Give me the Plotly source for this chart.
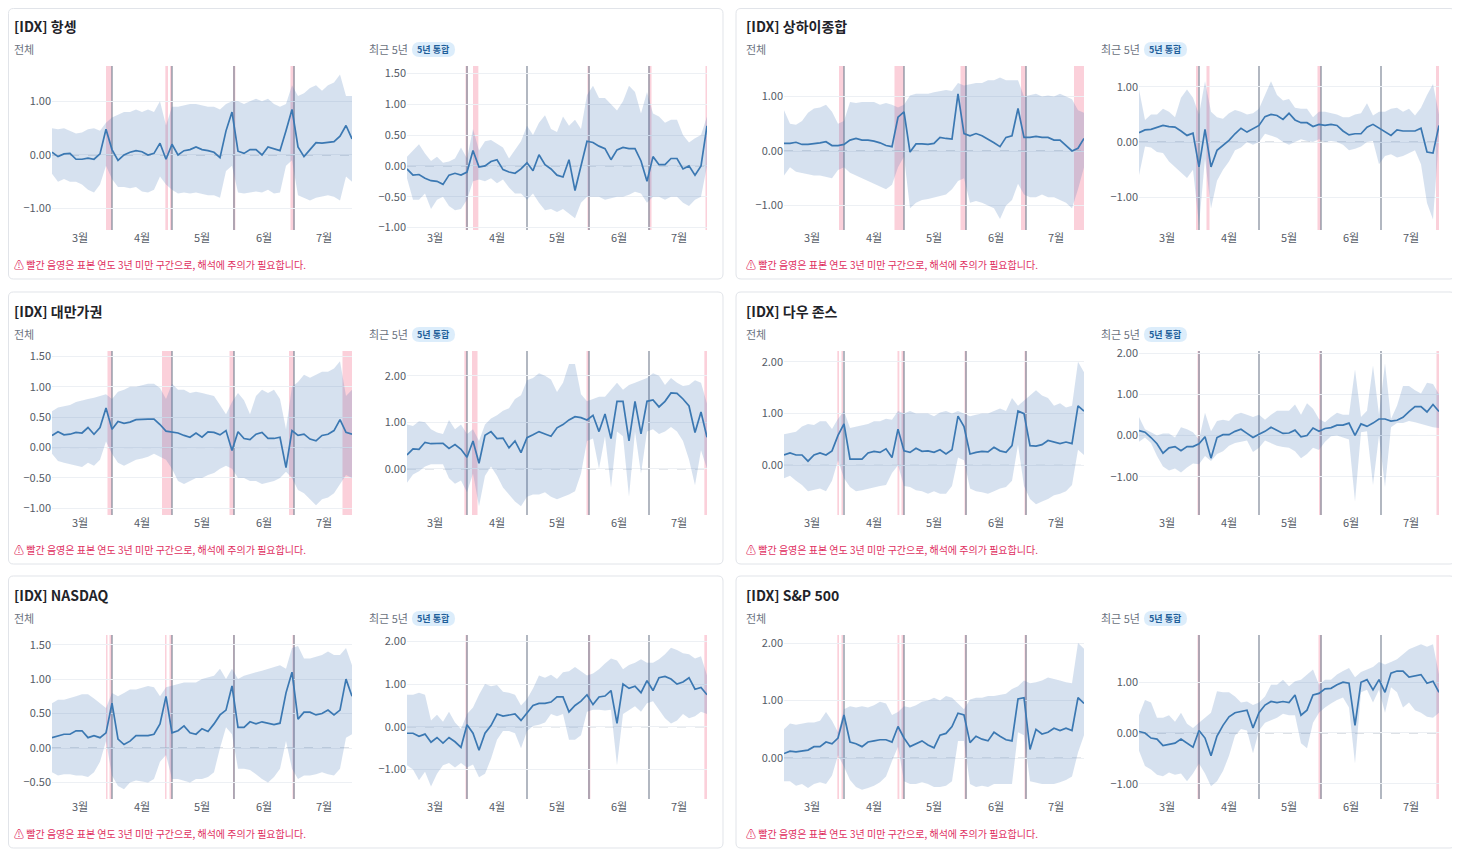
import pandas as pd
import plotly.graph_objects as go

W, H = 1460, 851          # reference picture size
OFF = 8                   # page margin around the figure
FW, FH = W - OFF, H - OFF # figure size
FONT = "Noto Sans CJK KR, Noto Sans, DejaVu Sans, sans-serif"

# shared x grid (every 3 days) and month ticks
dates = pd.date_range("2024-03-02", "2024-07-30", freq="3D")
month_ticks = ["2024-03-16", "2024-04-16", "2024-05-16", "2024-06-16", "2024-07-16"]
month_labels = ["3월", "4월", "5월", "6월", "7월"]
month_starts = ["2024-04-01", "2024-05-01", "2024-06-01", "2024-07-01"]

# ---- 항셍 ----
hangseng_all = [0.05, -0.03, 0.02, 0.03, -0.08, -0.08, -0.06, -0.08, 0.02, 0.48,
                0.1, -0.1, 0.0, 0.05, 0.08, 0.06, 0.0, 0.03, 0.22, -0.08,
                0.2, 0.0, 0.08, 0.1, 0.15, 0.1, 0.08, 0.05, -0.05, 0.45,
                0.8, 0.07, 0.03, 0.1, 0.1, 0.0, 0.15, 0.12, 0.08, 0.45,
                0.85, 0.15, -0.03, 0.1, 0.23, 0.22, 0.24, 0.25, 0.35, 0.55, 0.3]
hangseng_all_hi = [0.5, 0.48, 0.5, 0.45, 0.4, 0.42, 0.48, 0.5, 0.45, 0.6,
                   0.7, 0.75, 0.8, 0.8, 0.85, 0.8, 0.85, 0.8, 1.0, 0.55,
                   0.9, 0.9, 0.92, 0.95, 0.95, 0.92, 0.9, 0.9, 0.85, 0.95,
                   1.0, 1.0, 0.95, 1.0, 1.05, 1.0, 1.05, 0.95, 0.9, 0.95,
                   1.3, 1.1, 1.15, 1.25, 1.3, 1.2, 1.3, 1.35, 1.5, 1.1, 1.1]
hangseng_all_lo = [-0.35, -0.5, -0.45, -0.5, -0.5, -0.55, -0.65, -0.7, -0.55, -0.2,
                   -0.45, -0.6, -0.6, -0.62, -0.6, -0.68, -0.7, -0.65, -0.4, -0.55,
                   -0.65, -0.72, -0.7, -0.72, -0.7, -0.72, -0.75, -0.75, -0.8, -0.3,
                   -0.2, -0.7, -0.72, -0.7, -0.68, -0.7, -0.65, -0.72, -0.7, -0.2,
                   -0.1, -0.75, -0.8, -0.85, -0.8, -0.78, -0.75, -0.78, -0.85, -0.4, -0.5]
hangseng_5y = [-0.05, -0.15, -0.14, -0.2, -0.24, -0.25, -0.3, -0.15, -0.12, -0.15,
               -0.1, 0.25, -0.02, 0.0, 0.07, 0.1, -0.06, -0.1, -0.12, -0.05,
               0.05, -0.08, 0.18, 0.02, -0.05, -0.15, -0.18, 0.1, -0.4, 0.0,
               0.4, 0.38, 0.32, 0.28, 0.1, 0.26, 0.3, 0.28, 0.28, 0.08,
               -0.25, 0.15, 0.02, 0.02, 0.12, 0.12, -0.05, 0.0, -0.15, 0.0, 0.65]
hangseng_5y_hi = [0.15, 0.25, 0.35, 0.2, 0.08, 0.15, 0.05, 0.07, 0.12, 0.3,
                  0.12, 0.6, 0.25, 0.4, 0.42, 0.36, 0.3, 0.12, 0.25, 0.4,
                  0.65, 0.5, 0.7, 0.82, 0.6, 0.55, 0.8, 0.65, 0.75, 0.6,
                  1.15, 1.3, 1.1, 1.1, 1.0, 0.9, 1.05, 1.3, 1.2, 0.85,
                  1.2, 0.85, 0.8, 0.7, 0.75, 0.75, 0.5, 0.38, 0.45, 0.5, 0.8]
hangseng_5y_lo = [-0.2, -0.55, -0.55, -0.45, -0.7, -0.55, -0.5, -0.65, -0.72, -0.7,
                  -0.55, -0.25, -0.22, -0.25, -0.2, -0.28, -0.22, -0.35, -0.45, -0.45,
                  -0.55, -0.45, -0.6, -0.72, -0.7, -0.75, -0.7, -0.78, -0.85, -0.6,
                  -0.5, -0.5, -0.5, -0.55, -0.52, -0.5, -0.5, -0.47, -0.42, -0.45,
                  -0.6, -0.5, -0.5, -0.55, -0.5, -0.5, -0.6, -0.65, -0.55, -0.5, 0.0]

# ---- 상하이종합 ----
shanghai_all = [0.14, 0.14, 0.16, 0.12, 0.12, 0.13, 0.15, 0.17, 0.1, 0.1,
                0.12, 0.2, 0.23, 0.2, 0.2, 0.18, 0.15, 0.1, 0.08, 0.62,
                0.72, -0.02, 0.13, 0.13, 0.12, 0.14, 0.25, 0.23, 0.22, 1.05,
                0.32, 0.28, 0.32, 0.28, 0.22, 0.15, 0.08, 0.25, 0.28, 0.78,
                0.25, 0.25, 0.27, 0.25, 0.25, 0.2, 0.2, 0.1, 0.0, 0.05, 0.23]
shanghai_all_hi = [0.75, 0.5, 0.48, 0.55, 0.7, 0.78, 0.8, 0.85, 0.72, 0.5,
                   0.55, 0.9, 0.88, 0.9, 0.9, 0.9, 0.85, 0.88, 0.85, 0.8,
                   0.85, 1.02, 1.05, 1.05, 1.05, 1.08, 1.1, 1.12, 1.1, 1.25,
                   1.2, 1.22, 1.25, 1.25, 1.3, 1.3, 1.35, 1.3, 1.3, 1.3,
                   1.0, 1.02, 1.05, 1.0, 1.02, 1.0, 1.05, 1.0, 0.95, 0.75, 0.7]
shanghai_all_lo = [-0.45, -0.3, -0.38, -0.4, -0.42, -0.45, -0.45, -0.48, -0.5, -0.35,
                   -0.3, -0.4, -0.45, -0.5, -0.55, -0.6, -0.65, -0.7, -0.62, -0.3,
                   -0.1, -1.05, -0.95, -0.9, -0.88, -0.85, -0.82, -0.8, -0.7, -0.55,
                   -0.5, -0.95, -0.92, -0.95, -1.0, -1.05, -1.25, -1.0, -0.9, -0.6,
                   -0.8, -0.85, -0.85, -0.8, -0.85, -0.85, -0.9, -0.95, -1.05, -0.7, -0.3]
shanghai_5y = [0.17, 0.22, 0.23, 0.26, 0.3, 0.28, 0.27, 0.2, 0.12, 0.16,
               -0.45, 0.23, -0.45, -0.15, -0.06, 0.03, 0.15, 0.25, 0.18, 0.24,
               0.3, 0.46, 0.5, 0.48, 0.41, 0.52, 0.4, 0.35, 0.35, 0.28,
               0.32, 0.3, 0.32, 0.3, 0.2, 0.13, 0.15, 0.15, 0.27, 0.32,
               0.25, 0.18, 0.12, 0.22, 0.2, 0.2, 0.2, 0.25, -0.18, -0.2, 0.3]
shanghai_5y_hi = [0.95, 0.4, 0.5, 0.5, 0.6, 0.55, 0.45, 0.8, 0.95, 0.8,
                  0.5, 1.1, 0.55, 0.45, 0.42, 0.52, 0.58, 0.55, 0.5, 0.52,
                  0.6, 0.85, 1.1, 0.85, 0.75, 0.78, 0.62, 0.6, 0.6, 0.45,
                  0.55, 0.55, 0.52, 0.5, 0.45, 0.45, 0.5, 0.52, 0.7, 0.48,
                  0.55, 0.55, 0.6, 0.62, 0.55, 0.6, 0.48, 0.62, 0.85, 1.05, 0.5]
shanghai_5y_lo = [-0.6, -0.08, -0.1, -0.18, -0.2, -0.35, -0.45, -0.55, -0.65, -0.5,
                  -1.5, -0.3, -1.2, -0.7, -0.5, -0.35, -0.15, -0.1, 0.0, -0.05,
                  0.0, 0.15, 0.12, 0.08, 0.0, -0.05, 0.0, 0.05, 0.02, 0.0,
                  0.05, 0.0, 0.02, 0.0, -0.05, -0.15, -0.12, -0.08, 0.0, 0.02,
                  -0.4, -0.25, -0.22, -0.28, -0.25, -0.2, -0.15, -0.4, -1.1, -1.4, 0.1]

# ---- 대만가권 ----
taiwan_all = [0.2, 0.26, 0.21, 0.22, 0.25, 0.24, 0.33, 0.22, 0.33, 0.65,
              0.3, 0.43, 0.4, 0.42, 0.46, 0.47, 0.47, 0.47, 0.38, 0.27,
              0.25, 0.24, 0.2, 0.17, 0.24, 0.17, 0.26, 0.25, 0.21, 0.28,
              -0.05, 0.26, 0.15, 0.13, 0.22, 0.25, 0.15, 0.15, 0.17, -0.33,
              0.28, 0.2, 0.22, 0.14, 0.11, 0.2, 0.22, 0.28, 0.46, 0.25, 0.22]
taiwan_all_hi = [0.6, 0.66, 0.68, 0.7, 0.75, 0.78, 0.8, 0.82, 0.85, 0.88,
                 0.8, 0.92, 0.95, 1.0, 1.0, 1.02, 1.05, 1.05, 0.98, 0.8,
                 1.05, 0.95, 0.95, 0.9, 0.92, 0.9, 0.88, 0.85, 0.7, 0.55,
                 0.75, 0.9, 0.78, 0.55, 0.85, 0.95, 0.9, 0.95, 0.8, 0.3,
                 1.0, 1.08, 1.2, 1.15, 1.2, 1.25, 1.25, 1.3, 1.42, 0.85, 0.95]
taiwan_all_lo = [-0.1, -0.22, -0.25, -0.27, -0.3, -0.32, -0.25, -0.3, -0.2, 0.1,
                 -0.1, -0.25, -0.3, -0.25, -0.2, -0.18, -0.15, -0.1, -0.15, -0.2,
                 -0.35, -0.55, -0.6, -0.55, -0.5, -0.5, -0.45, -0.42, -0.35, -0.3,
                 -0.35, -0.5, -0.5, -0.55, -0.55, -0.6, -0.58, -0.55, -0.5, -0.4,
                 -0.5, -0.7, -0.75, -0.85, -0.95, -0.85, -0.82, -0.75, -0.6, -0.45, -0.5]
taiwan_5y = [0.3, 0.43, 0.42, 0.57, 0.54, 0.55, 0.55, 0.44, 0.52, 0.42,
             0.25, 0.6, 0.12, 0.72, 0.8, 0.65, 0.66, 0.45, 0.6, 0.35,
             0.67, 0.73, 0.8, 0.75, 0.7, 0.88, 0.95, 1.05, 1.12, 1.1,
             1.05, 1.15, 0.8, 1.18, 0.65, 1.45, 1.45, 0.6, 1.45, 0.75,
             1.45, 1.48, 1.33, 1.45, 1.63, 1.62, 1.5, 1.35, 0.78, 1.22, 0.68]
taiwan_5y_hi = [0.95, 0.92, 1.02, 1.0, 0.85, 0.78, 0.75, 1.05, 0.85, 0.95,
                0.75, 0.85, 0.6, 0.95, 1.08, 1.15, 1.25, 1.3, 1.5, 1.58,
                1.9, 1.95, 2.05, 2.0, 1.92, 1.65, 1.85, 2.25, 2.25, 1.6,
                1.45, 1.5, 1.55, 1.55, 1.7, 1.85, 1.7, 1.8, 1.85, 1.9,
                1.95, 2.05, 2.0, 1.8, 1.95, 1.85, 1.78, 1.8, 1.9, 1.85, 1.4]
taiwan_5y_lo = [-0.3, -0.12, -0.05, 0.05, 0.1, 0.1, 0.1, -0.2, -0.32, -0.25,
                -0.5, -0.1, -0.8, -0.15, 0.05, -0.15, -0.4, -0.55, -0.7, -0.8,
                -0.6, -0.55, -0.55, -0.5, -0.6, -0.65, -0.6, -0.55, -0.48, -0.1,
                0.6, 0.65, 0.0, 0.7, -0.4, 0.8, 0.7, -0.6, 0.8, -0.1,
                0.8, 0.85, 0.75, 0.8, 0.9, 0.8, 0.6, 0.2, -0.35, 0.4, 0.0]

# ---- 다우 존스 ----
dow_all = [0.2, 0.24, 0.2, 0.2, 0.08, 0.2, 0.24, 0.2, 0.28, 0.58,
           0.8, 0.12, 0.12, 0.12, 0.24, 0.27, 0.25, 0.32, 0.15, 0.7,
           0.28, 0.25, 0.33, 0.27, 0.28, 0.25, 0.3, 0.22, 0.3, 0.95,
           0.75, 0.22, 0.25, 0.27, 0.26, 0.35, 0.28, 0.25, 0.38, 1.05,
           1.0, 0.38, 0.37, 0.4, 0.48, 0.45, 0.42, 0.45, 0.42, 1.15, 1.05]
dow_all_hi = [0.6, 0.62, 0.65, 0.75, 0.8, 0.78, 0.85, 0.85, 0.7, 0.9,
              1.05, 0.72, 0.75, 0.78, 0.8, 0.85, 0.85, 0.9, 0.88, 1.05,
              1.0, 1.05, 1.0, 1.0, 1.0, 0.95, 1.02, 1.05, 1.0, 1.05,
              1.0, 0.95, 0.98, 1.0, 1.0, 1.05, 1.1, 1.05, 1.3, 1.15,
              1.25, 1.35, 1.45, 1.35, 1.3, 1.15, 1.2, 1.12, 1.15, 2.0, 1.8]
dow_all_lo = [-0.25, -0.2, -0.3, -0.38, -0.5, -0.48, -0.45, -0.5, -0.3, 0.1,
              -0.25, -0.42, -0.5, -0.48, -0.45, -0.42, -0.4, -0.38, -0.15, 0.0,
              -0.4, -0.42, -0.48, -0.5, -0.55, -0.5, -0.55, -0.55, -0.4, 0.15,
              0.1, -0.45, -0.5, -0.52, -0.55, -0.5, -0.45, -0.42, -0.3, 0.4,
              -0.4, -0.65, -0.75, -0.7, -0.65, -0.58, -0.55, -0.5, -0.38, 0.3, 0.2]
dow_5y = [0.12, 0.08, -0.05, -0.2, -0.43, -0.3, -0.27, -0.37, -0.27, -0.27,
          -0.2, -0.03, -0.55, -0.05, 0.02, 0.02, 0.1, 0.15, 0.05, -0.05,
          0.03, 0.1, 0.2, 0.12, 0.05, 0.06, 0.13, -0.03, 0.0, 0.18,
          0.1, 0.17, 0.19, 0.25, 0.25, 0.3, 0.0, 0.28, 0.22, 0.3,
          0.4, 0.4, 0.35, 0.37, 0.44, 0.58, 0.7, 0.7, 0.57, 0.75, 0.58]
dow_5y_hi = [0.45, 0.15, 0.08, 0.0, 0.05, 0.05, -0.05, 0.2, 0.15, 0.08,
             -0.1, 0.55, 0.1, 0.35, 0.38, 0.35, 0.5, 0.55, 0.5, 0.45,
             0.5, 0.38, 0.5, 0.6, 0.6, 0.6, 0.75, 0.5, 0.78, 0.65,
             0.4, 0.32, 0.45, 0.55, 0.5, 0.5, 1.6, 0.45, 0.6, 1.7,
             0.5, 1.75, 0.4, 0.72, 1.2, 1.2, 1.1, 1.02, 1.28, 1.25, 1.0]
dow_5y_lo = [-0.15, -0.05, -0.18, -0.5, -0.75, -0.85, -0.8, -0.9, -0.78, -0.68,
             -0.7, -0.5, -0.62, -0.45, -0.38, -0.25, -0.18, -0.15, -0.12, -0.4,
             -0.3, -0.12, -0.18, -0.25, -0.28, -0.3, -0.38, -0.55, -0.45, -0.3,
             -0.35, -0.15, -0.02, 0.0, -0.05, -0.1, -1.6, 0.08, 0.1, -1.2,
             0.0, -1.25, 0.2, 0.3, 0.3, 0.35, 0.32, 0.28, 0.25, 0.2, 0.18]

# ---- NASDAQ ----
nasdaq_all = [0.15, 0.18, 0.2, 0.2, 0.25, 0.25, 0.15, 0.18, 0.15, 0.22,
              0.65, 0.13, 0.05, 0.1, 0.18, 0.18, 0.18, 0.2, 0.35, 0.75,
              0.22, 0.25, 0.32, 0.22, 0.2, 0.28, 0.24, 0.35, 0.48, 0.55,
              0.9, 0.3, 0.3, 0.38, 0.35, 0.38, 0.36, 0.34, 0.36, 0.8,
              1.1, 0.42, 0.52, 0.52, 0.48, 0.5, 0.55, 0.48, 0.55, 1.0, 0.75]
nasdaq_all_hi = [0.65, 0.7, 0.7, 0.72, 0.75, 0.78, 0.78, 0.72, 0.65, 0.58,
                 0.8, 0.75, 0.8, 0.85, 0.85, 0.88, 0.9, 0.88, 0.75, 0.88,
                 0.9, 0.92, 0.95, 0.95, 0.95, 1.0, 1.02, 1.05, 1.15, 1.0,
                 1.15, 1.0, 1.05, 1.08, 1.1, 1.12, 1.15, 1.18, 1.2, 1.15,
                 1.45, 1.48, 1.3, 1.3, 1.32, 1.35, 1.4, 1.35, 1.35, 1.45, 1.2]
nasdaq_all_lo = [-0.35, -0.4, -0.38, -0.38, -0.4, -0.4, -0.42, -0.35, -0.2, 0.1,
                 -0.4, -0.55, -0.6, -0.5, -0.47, -0.48, -0.5, -0.45, -0.2, -0.1,
                 -0.45, -0.45, -0.48, -0.5, -0.45, -0.45, -0.42, -0.35, 0.0, 0.3,
                 0.2, -0.3, -0.3, -0.32, -0.38, -0.45, -0.5, -0.42, -0.3, 0.1,
                 -0.3, -0.45, -0.4, -0.4, -0.38, -0.35, -0.38, -0.4, -0.3, 0.15, 0.2]
nasdaq_5y = [-0.15, -0.15, -0.22, -0.17, -0.36, -0.25, -0.38, -0.25, -0.35, -0.48,
             0.05, -0.15, -0.55, -0.15, 0.03, 0.3, 0.25, 0.28, 0.3, 0.15,
             0.32, 0.5, 0.55, 0.55, 0.58, 0.7, 0.7, 0.35, 0.5, 0.6,
             0.75, 0.52, 0.7, 0.72, 0.85, 0.08, 1.0, 0.9, 0.95, 0.8,
             1.08, 0.85, 1.15, 1.18, 1.12, 1.0, 1.05, 1.15, 0.88, 0.92, 0.75]
nasdaq_5y_hi = [0.75, 0.75, 0.8, 0.75, 0.15, 0.28, 0.12, 0.35, 0.1, -0.05,
                0.3, 0.45, 0.75, 1.0, 0.95, 0.98, 0.82, 0.8, 0.75, 0.5,
                0.65, 0.9, 1.2, 1.15, 1.22, 1.12, 1.28, 1.3, 1.4, 1.3,
                1.2, 1.25, 1.35, 1.48, 1.6, 1.55, 1.35, 1.45, 1.5, 1.58,
                1.5, 1.5, 1.58, 1.7, 1.85, 1.8, 1.72, 1.7, 1.6, 1.65, 1.2]
nasdaq_5y_lo = [-0.9, -1.0, -1.25, -1.05, -1.4, -1.1, -0.9, -0.85, -0.95, -0.85,
                -0.95, -0.88, -1.18, -1.1, -0.75, -0.3, -0.1, -0.1, -0.15, -0.5,
                -0.1, 0.02, 0.05, 0.1, 0.3, 0.25, 0.3, -0.3, -0.3, -0.2,
                0.35, 0.4, 0.4, 0.38, 0.4, -0.9, 0.3, 0.4, 0.48, 0.35,
                0.55, 0.6, 0.4, 0.2, 0.08, 0.15, 0.3, 0.2, 0.25, 0.35, 0.3]

# ---- S&P 500 ----
sp500_all = [0.08, 0.12, 0.11, 0.12, 0.14, 0.2, 0.2, 0.28, 0.25, 0.35,
             0.75, 0.28, 0.25, 0.2, 0.28, 0.3, 0.32, 0.32, 0.28, 0.55,
             0.35, 0.2, 0.25, 0.3, 0.23, 0.18, 0.4, 0.43, 0.55, 0.78,
             0.75, 0.27, 0.38, 0.33, 0.3, 0.45, 0.38, 0.32, 0.3, 1.03,
             1.05, 0.15, 0.5, 0.42, 0.45, 0.52, 0.48, 0.52, 0.48, 1.05, 0.95]
sp500_all_hi = [0.5, 0.6, 0.58, 0.6, 0.62, 0.62, 0.65, 0.8, 0.65, 0.45,
                0.85, 0.9, 0.88, 0.9, 0.88, 0.92, 0.98, 0.95, 0.75, 0.8,
                0.9, 0.88, 0.92, 0.98, 1.0, 1.05, 1.0, 1.08, 1.05, 0.95,
                0.85, 1.02, 1.05, 1.05, 1.08, 1.08, 1.1, 1.12, 1.2, 1.25,
                1.35, 1.3, 1.32, 1.35, 1.4, 1.38, 1.35, 1.32, 1.3, 2.0, 1.9]
sp500_all_lo = [-0.4, -0.4, -0.48, -0.45, -0.52, -0.45, -0.42, -0.45, -0.3, 0.05,
                -0.15, -0.38, -0.5, -0.55, -0.52, -0.48, -0.42, -0.32, -0.05, 0.2,
                -0.4, -0.45, -0.45, -0.42, -0.45, -0.5, -0.5, -0.48, -0.4, 0.3,
                0.3, -0.45, -0.5, -0.48, -0.5, -0.45, -0.45, -0.45, -0.45, 0.45,
                0.4, -0.4, -0.42, -0.45, -0.45, -0.45, -0.42, -0.38, -0.32, 0.1, 0.4]
sp500_5y = [0.03, 0.0, -0.1, -0.12, -0.25, -0.22, -0.2, -0.12, -0.2, -0.28,
            0.05, -0.1, -0.45, -0.06, 0.15, 0.32, 0.4, 0.42, 0.45, 0.1,
            0.4, 0.55, 0.62, 0.6, 0.62, 0.6, 0.75, 0.35, 0.45, 0.75,
            0.78, 0.87, 0.88, 0.95, 1.0, 0.98, 0.15, 1.0, 1.05, 0.85,
            1.05, 0.8, 1.18, 1.22, 1.22, 1.1, 1.12, 1.15, 0.98, 1.02, 0.8]
sp500_5y_hi = [0.35, 0.65, 0.6, 0.3, 0.3, 0.35, 0.22, 0.4, 0.18, 0.1,
               0.2, 0.3, 0.4, 0.82, 0.8, 0.8, 0.72, 0.6, 0.62, 0.55,
               0.6, 0.72, 0.95, 0.95, 1.05, 0.92, 1.02, 1.05, 1.15, 1.25,
               0.95, 1.05, 1.05, 1.15, 1.22, 1.28, 1.1, 1.2, 1.25, 1.3,
               1.4, 1.35, 1.4, 1.45, 1.55, 1.65, 1.7, 1.75, 1.7, 1.75, 1.15]
sp500_5y_lo = [-0.35, -0.65, -0.72, -0.82, -0.85, -0.78, -0.82, -0.8, -0.95, -0.8,
               -0.6, -0.8, -1.05, -0.95, -0.75, -0.45, -0.05, 0.08, 0.05, -0.4,
               0.05, 0.2, 0.25, 0.3, 0.38, 0.35, 0.35, -0.2, -0.3, 0.2,
               0.4, 0.5, 0.58, 0.65, 0.7, 0.5, -0.6, 0.8, 0.85, 0.6,
               0.85, 0.4, 0.9, 0.8, 0.5, 0.6, 0.45, 0.4, 0.32, 0.3, 0.4]

# red shaded spans (fewer than 3 sample years)
red_hangseng_all = [("2024-03-29", "2024-04-01"), ("2024-04-27 16:00", "2024-04-29"),
                    ("2024-04-30", "2024-05-01"), ("2024-05-31 12:00", "2024-06-01 16:00"),
                    ("2024-06-29 06:00", "2024-07-01 06:00")]
red_hangseng_5y = [("2024-03-31 06:00", "2024-04-01 12:00"), ("2024-04-04", "2024-04-06 16:00"),
                   ("2024-05-31 06:00", "2024-06-01 06:00"), ("2024-06-30 18:00", "2024-07-02 06:00"),
                   ("2024-07-29 06:00", "2024-07-30")]
red_shanghai_all = [("2024-03-29 12:00", "2024-04-01"), ("2024-04-26 06:00", "2024-05-01"),
                    ("2024-05-29 06:00", "2024-06-01"), ("2024-06-28 12:00", "2024-07-01"),
                    ("2024-07-25", "2024-07-30")]
red_shanghai_5y = [("2024-03-30 12:00", "2024-03-31 18:00"), ("2024-04-04 18:00", "2024-04-06 06:00"),
                   ("2024-05-30 06:00", "2024-06-01"), ("2024-07-28 12:00", "2024-07-30")]
red_taiwan_all = [("2024-03-29 18:00", "2024-04-01"), ("2024-04-26", "2024-05-01"),
                  ("2024-05-29 18:00", "2024-06-01"), ("2024-06-28 12:00", "2024-07-01"),
                  ("2024-07-25 06:00", "2024-07-30")]
red_taiwan_5y = [("2024-03-30 16:00", "2024-04-01"), ("2024-04-03 12:00", "2024-04-06 06:00"),
                 ("2024-05-30 18:00", "2024-06-01"), ("2024-07-28 16:00", "2024-07-30")]
red_dow_all = [("2024-03-28 16:00", "2024-03-29 12:00"), ("2024-03-30 18:00", "2024-03-31 12:00"),
               ("2024-04-27 18:00", "2024-04-28 16:00"), ("2024-04-29 18:00", "2024-05-01"),
               ("2024-05-31 06:00", "2024-06-01 06:00"), ("2024-06-30 06:00", "2024-07-01 06:00")]
red_dow_5y = [("2024-03-31 06:00", "2024-04-01 12:00"), ("2024-05-31", "2024-06-01 06:00"),
              ("2024-07-28 18:00", "2024-07-30")]
red_nasdaq_all = [("2024-03-29", "2024-03-29 18:00"), ("2024-03-30 18:00", "2024-04-01"),
                  ("2024-04-27 12:00", "2024-04-28 06:00"), ("2024-04-29 18:00", "2024-05-01"),
                  ("2024-05-31 12:00", "2024-06-01 06:00"), ("2024-06-30 06:00", "2024-07-01 06:00")]
red_nasdaq_5y = [("2024-03-31 06:00", "2024-04-01 06:00"), ("2024-05-31 12:00", "2024-06-01 16:00"),
                 ("2024-07-28 16:00", "2024-07-30")]
red_sp500_all = [("2024-03-28 16:00", "2024-03-29 12:00"), ("2024-03-30 18:00", "2024-03-31 12:00"),
                 ("2024-04-27 18:00", "2024-04-28 16:00"), ("2024-04-29 18:00", "2024-05-01"),
                 ("2024-05-31 06:00", "2024-06-01 06:00"), ("2024-06-30 06:00", "2024-07-01 06:00")]
red_sp500_5y = [("2024-03-31 06:00", "2024-04-01 12:00"), ("2024-05-30 18:00", "2024-06-01 06:00"),
                ("2024-07-28 16:00", "2024-07-30")]

panels = [
    ("[IDX] 항셍", (hangseng_all, hangseng_all_hi, hangseng_all_lo), red_hangseng_all,
     (hangseng_5y, hangseng_5y_hi, hangseng_5y_lo), red_hangseng_5y),
    ("[IDX] 상하이종합", (shanghai_all, shanghai_all_hi, shanghai_all_lo), red_shanghai_all,
     (shanghai_5y, shanghai_5y_hi, shanghai_5y_lo), red_shanghai_5y),
    ("[IDX] 대만가권", (taiwan_all, taiwan_all_hi, taiwan_all_lo), red_taiwan_all,
     (taiwan_5y, taiwan_5y_hi, taiwan_5y_lo), red_taiwan_5y),
    ("[IDX] 다우 존스", (dow_all, dow_all_hi, dow_all_lo), red_dow_all,
     (dow_5y, dow_5y_hi, dow_5y_lo), red_dow_5y),
    ("[IDX] NASDAQ", (nasdaq_all, nasdaq_all_hi, nasdaq_all_lo), red_nasdaq_all,
     (nasdaq_5y, nasdaq_5y_hi, nasdaq_5y_lo), red_nasdaq_5y),
    ("[IDX] S&P 500", (sp500_all, sp500_all_hi, sp500_all_lo), red_sp500_all,
     (sp500_5y, sp500_5y_hi, sp500_5y_lo), red_sp500_5y),
]

# y ranges / tick step per subplot (전체, 최근 5년)
y_setup = [
    [((-1.40, 1.66), 1), ((-1.04, 1.62), 0.5)],
    [((-1.45, 1.56), 1), ((-1.59, 1.375), 1)],
    [((-1.11, 1.59), 0.5), ((-0.99, 2.53), 1)],
    [((-0.96, 2.21), 1), ((-1.93, 2.05), 1)],
    [((-0.74, 1.64), 0.5), ((-1.69, 2.15), 1)],
    [((-0.71, 2.14), 1), ((-1.30, 1.93), 1)],
]

LINE = "#3b78b2"
BAND = "rgba(70,120,180,0.22)"
RED = "rgba(242,110,140,0.32)"
GRAY = "#7f8898"
WARN = "⚠ 빨간 음영은 표본 연도 3년 미만 구간으로, 해석에 주의가 필요합니다."

CARD_X = [4, 736]
CARD_Y = [7, 292, 576]
CARD_W, CARD_H = 719, 272


def fx(x):
    return (x - OFF) / FW


def fy(y):
    return 1 - (y - OFF) / FH


def pp(x, y):
    return f"{fx(x):.5f},{fy(y):.5f}"


def rounded_path(x0, y0, x1, y1, r):
    return (f"M {pp(x0 + r, y0)} L {pp(x1 - r, y0)} Q {pp(x1, y0)} {pp(x1, y0 + r)} "
            f"L {pp(x1, y1 - r)} Q {pp(x1, y1)} {pp(x1 - r, y1)} "
            f"L {pp(x0 + r, y1)} Q {pp(x0, y1)} {pp(x0, y1 - r)} "
            f"L {pp(x0, y0 + r)} Q {pp(x0, y0)} {pp(x0 + r, y0)} Z")


def text(x, y, s, size, color, anchor="left"):
    return dict(x=fx(x), y=fy(y), xref="paper", yref="paper", text=s, showarrow=False,
                xanchor=anchor, yanchor="middle", font=dict(size=size, color=color, family=FONT))


fig = go.Figure()
shapes, annotations, axes = [], [], {}
n = 0
for idx, (title, all_set, all_red, five_set, five_red) in enumerate(panels):
    row, col = divmod(idx, 2)
    cx, cy = CARD_X[col], CARD_Y[row]
    shapes.append(dict(type="path", xref="paper", yref="paper", layer="below",
                       path=rounded_path(max(cx, OFF + 0.5), max(cy, OFF + 0.5),
                                         min(cx + CARD_W, OFF + FW - 0.5), cy + CARD_H, 5),
                       fillcolor="white", line=dict(color="#e1e4e9", width=1)))
    shapes.append(dict(type="path", xref="paper", yref="paper", layer="below",
                       path=rounded_path(cx + 408, cy + 35, cx + 451, cy + 50, 7.5),
                       fillcolor="#dcedfb", line=dict(width=0)))
    annotations += [
        text(cx + 8, cy + 19, f"<b>{title}</b>", 14, "#1f2329"),
        text(cx + 8, cy + 42, "전체", 11, "#6b7280"),
        text(cx + 363, cy + 42, "최근 5년", 11, "#6b7280"),
        text(cx + 429.5, cy + 42.5, "<b>5년 통합</b>", 9, "#1f5f9a", "center"),
        text(cx + 8, cy + 257, WARN, 10, "#e0305f"),
    ]
    for j, (series, reds) in enumerate([(all_set, all_red), (five_set, five_red)]):
        n += 1
        sfx = "" if n == 1 else str(n)
        xn, yn = f"x{sfx}", f"y{sfx}"
        left = cx + (48 if j == 0 else 403)
        top = cy + 59
        (y0, y1), dt = y_setup[idx][j]
        axes[f"xaxis{sfx}"] = dict(
            domain=[fx(left), fx(left + 300)], anchor=yn, type="date", automargin=False,
            range=[dates[0], dates[-1]], tickvals=month_ticks, ticktext=month_labels,
            showgrid=False, zeroline=False, showline=False, ticks="",
            tickfont=dict(size=11, color="#555b66", family=FONT), fixedrange=True)
        axes[f"yaxis{sfx}"] = dict(
            domain=[fy(top + 164), fy(top)], anchor=xn, range=[y0, y1], automargin=False,
            tick0=0, dtick=dt, tickformat=".2f", showgrid=True, gridcolor="#edf0f4",
            zeroline=False, showline=False, ticks="",
            tickfont=dict(size=11, color="#555b66", family=FONT), fixedrange=True)
        mid, hi, lo = series
        fig.add_trace(go.Scatter(x=dates, y=hi, xaxis=xn, yaxis=yn, mode="lines",
                                 line=dict(width=0, color=BAND), hoverinfo="skip", showlegend=False))
        fig.add_trace(go.Scatter(x=dates, y=lo, xaxis=xn, yaxis=yn, mode="lines",
                                 line=dict(width=0, color=BAND), fill="tonexty", fillcolor=BAND,
                                 hoverinfo="skip", showlegend=False))
        fig.add_trace(go.Scatter(x=dates, y=mid, xaxis=xn, yaxis=yn, mode="lines",
                                 line=dict(width=1.7, color=LINE), showlegend=False))
        for a, b in reds:
            shapes.append(dict(type="rect", xref=xn, yref=f"{yn} domain", x0=a, x1=b, y0=0, y1=1,
                               fillcolor=RED, line=dict(width=0), layer="below"))
        for m in month_starts:
            shapes.append(dict(type="line", xref=xn, yref=f"{yn} domain", x0=m, x1=m, y0=0, y1=1,
                               line=dict(color=GRAY, width=1.2), layer="below"))
        shapes.append(dict(type="line", xref=f"{xn} domain", yref=yn, x0=0, x1=1, y0=0, y1=0,
                           line=dict(color="#b9c1cc", width=1, dash="dash"), layer="below"))

fig.update_layout(
    width=FW, height=FH, margin=dict(l=0, r=0, t=0, b=0, autoexpand=False),
    paper_bgcolor="white", plot_bgcolor="rgba(0,0,0,0)",
    showlegend=False, shapes=shapes, annotations=annotations,
    font=dict(family=FONT), **axes)

fig.write_html("out.html")
